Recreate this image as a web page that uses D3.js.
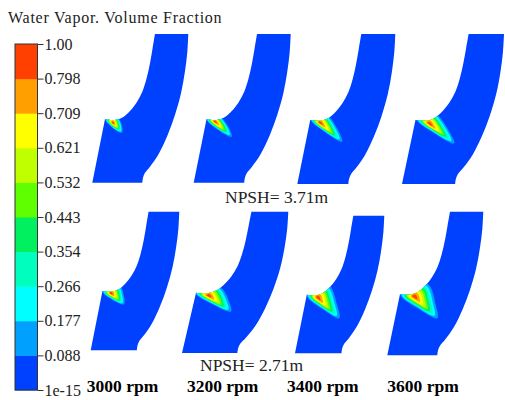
<!DOCTYPE html>
<html>
<head>
<meta charset="utf-8">
<script src="https://cdnjs.cloudflare.com/ajax/libs/d3/7.8.5/d3.min.js"></script>
<style>
  html, body { margin: 0; background: #fff; }
  text { font-family: "Liberation Serif", serif; fill: #222; }
</style>
</head>
<body>
<svg id="viz" width="505" height="400"></svg>
<script>
const chartTitle = "Water Vapor. Volume Fraction";
const tickLabels = ["1e-15", "0.088", "0.177", "0.266", "0.354", "0.443", "0.532", "0.621", "0.709", "0.798", "1.00"];
const bandColors = ["#0040ff", "#00a0ff", "#00ffff", "#00ffbf", "#00f060", "#60ff00", "#bfff00", "#ffff00", "#ffa000", "#ff4000"];
const rpmLabels = ["3000 rpm", "3200 rpm", "3400 rpm", "3600 rpm"];
const npshLabels = ["NPSH= 3.71m", "NPSH= 2.71m"];

// blade outline, as fractions of the blade box
const rimEdge = [[1, 0], [0.99, 0.119], [0.965, 0.253], [0.924, 0.399], [0.861, 0.545], [0.785, 0.679], [0.694, 0.803], [0.601, 0.892], [0.549, 0.933], [0.528, 0.966], [0.521, 1]];
const hubEdge = [[0.132, 0.574], [0.184, 0.578], [0.253, 0.576], [0.323, 0.558], [0.392, 0.518], [0.462, 0.46], [0.521, 0.388], [0.566, 0.298], [0.601, 0.197], [0.628, 0.096], [0.653, 0]];

const pocketCorner = [[0.132, 0.567], [0.127, 0.567], [0.13, 0.562], [0.137, 0.562], [0.131, 0.572], [0.122, 0.57], [0.131, 0.576], [0.132, 0.573]];
const pocketTip = [[0.309, 0.664], [0.392, 0.691], [0.459, 0.718], [0.513, 0.729], [0.376, 0.668], [0.461, 0.706], [0.496, 0.746], [0.521, 0.742]];
const pocketHub = [[0.268, 0.558], [0.278, 0.556], [0.31, 0.54], [0.333, 0.529], [0.331, 0.529], [0.373, 0.542], [0.392, 0.511], [0.434, 0.51]];
const pocketHot = [[0.205, 0.585], [0.209, 0.578], [0.221, 0.58], [0.258, 0.585], [0.218, 0.577], [0.238, 0.582], [0.243, 0.584], [0.271, 0.58]];
const contourSize = [1, 0.88, 0.77, 0.67, 0.58, 0.49, 0.38, 0.25, 0.13];

// blade boxes on the page: left, top, width, height
const bladeBoxes = [
  [92.3, 34, 96, 148.7], [193.7, 34, 97, 148.7], [297.3, 34, 98, 150], [402, 34, 102, 150],
  [90.7, 211.7, 88.6, 138.6], [182, 211.7, 106.3, 141.3], [295, 215.7, 89.3, 137.6], [387.3, 211.7, 96, 143.6]
];

const svg = d3.select("#viz");

svg.append("text")
  .attr("x", 8)
  .attr("y", 23)
  .style("font-size", "16px")
  .style("letter-spacing", "0.75px")
  .text(chartTitle);

// legend
const barTop = 44, barBottom = 390, barLeft = 15, barRight = 37.5;
const bandScale = d3.scaleBand()
  .domain(d3.range(bandColors.length))
  .range([barBottom, barTop]);
const tickScale = d3.scalePoint()
  .domain(tickLabels)
  .range([barBottom, barTop]);

svg.selectAll(".band")
  .data(bandColors)
  .join("rect")
  .attr("class", "band")
  .attr("x", barLeft)
  .attr("width", barRight - barLeft)
  .attr("y", (d, i) => bandScale(i))
  .attr("height", bandScale.bandwidth() + 0.5)
  .attr("fill", (d) => d);

svg.append("rect")
  .attr("x", barLeft)
  .attr("y", barTop)
  .attr("width", barRight - barLeft)
  .attr("height", barBottom - barTop)
  .attr("fill", "none")
  .attr("stroke", "#333");

const axis = svg.append("g")
  .attr("transform", `translate(${barRight},0)`)
  .call(d3.axisRight(tickScale).tickSize(6).tickPadding(1));
axis.select(".domain").remove();
axis.selectAll("line").attr("stroke", "#333");
axis.selectAll("text")
  .style("font-family", '"Liberation Serif", serif')
  .style("font-size", "16px");

// blades
const defs = svg.append("defs");
defs.append("filter")
  .attr("id", "soft")
  .append("feGaussianBlur")
  .attr("stdDeviation", 0.6);

const curved = d3.line().curve(d3.curveCatmullRom);
const pocketLine = d3.line().curve(d3.curveCatmullRomClosed.alpha(0.5));

bladeBoxes.forEach((box, i) => {
  const x = d3.scaleLinear().domain([0, 1]).range([box[0], box[0] + box[2]]);
  const y = d3.scaleLinear().domain([0, 1]).range([box[1], box[1] + box[3]]);
  const place = (p) => [x(p[0]), y(p[1])];

  const rim = curved(rimEdge.map(place));
  const hub = curved(hubEdge.map(place));
  const outline = rim + "L" + x(0) + "," + y(1) + "L" + hub.slice(1) + "Z";

  defs.append("clipPath")
    .attr("id", "blade" + i)
    .append("path")
    .attr("d", outline);

  const g = svg.append("g").attr("filter", "url(#soft)");
  g.append("path").attr("d", outline).attr("fill", bandColors[0]);

  const c = pocketCorner[i], t = pocketTip[i], h = pocketHub[i], hot = pocketHot[i];
  // sides of the pocket bow out between its three corners
  const lower = [c[0] * 0.45 + t[0] * 0.55 - 0.016, c[1] * 0.45 + t[1] * 0.55 + 0.012];
  const upper = [h[0] * 0.4 + t[0] * 0.6 + 0.016, h[1] * 0.4 + t[1] * 0.6 - 0.006];
  const above = [(c[0] + h[0]) / 2, Math.min(c[1], h[1]) - 0.03];
  const ring = [c, lower, t, upper, h, above];
  // contours shrink toward a point a little under the hot spot
  const mid = [hot[0] + 0.01, hot[1] + 0.012];

  const pockets = g.append("g").attr("clip-path", `url(#blade${i})`);
  contourSize.forEach((s, k) => {
    const pts = ring.map((p) => place([mid[0] + s * (p[0] - mid[0]), mid[1] + s * (p[1] - mid[1])]));
    pockets.append("path")
      .attr("d", pocketLine(pts))
      .attr("fill", bandColors[k + 1]);
  });
});

// captions
const captionX = d3.scalePoint().domain(rpmLabels).range([122.5, 423]);
svg.selectAll(".rpm")
  .data(rpmLabels)
  .join("text")
  .attr("class", "rpm")
  .attr("x", (d) => captionX(d))
  .attr("y", 392)
  .attr("text-anchor", "middle")
  .style("font-size", "17.5px")
  .style("font-weight", "bold")
  .style("fill", "#000")
  .text((d) => d);

svg.append("text")
  .attr("x", 225)
  .attr("y", 203)
  .style("font-size", "17.5px")
  .text(npshLabels[0]);
svg.append("text")
  .attr("x", 200)
  .attr("y", 371)
  .style("font-size", "17.5px")
  .text(npshLabels[1]);
</script>
</body>
</html>
